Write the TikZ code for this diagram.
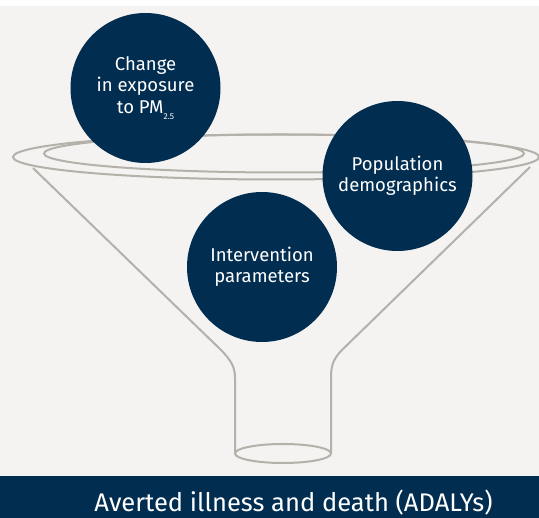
\documentclass[tikz,border=0pt]{standalone}
\usepackage{fontspec}
\setmainfont{Fira Sans}
\definecolor{navy}{HTML}{002D50}
\definecolor{bggray}{HTML}{F4F3F1}
\definecolor{rimgray}{HTML}{B4B1AB}
\begin{document}
\begin{tikzpicture}[x=1pt,y=-1pt,
  rim/.style={draw=rimgray,line width=2pt},
  bubble/.style={circle,fill=navy,minimum size=150pt,inner sep=0pt,text=white,align=center,
    font=\fontsize{18.5}{21.5}\selectfont},
  bandtext/.style={text=white,font=\fontsize{25.5}{30}\selectfont}]
\useasboundingbox (0,0) rectangle (539,518);
\fill[white] (0,0) rectangle (539,518);
\fill[bggray] (0,6) rectangle (539,476);
\fill[navy] (0,476) rectangle (539,518);
% funnel
\draw[rim] (276,157) ellipse [x radius=263, y radius=22.5];
\draw[rim] (284,153.5) ellipse [x radius=240, y radius=19];
\draw[rim,line join=round] (33,168) -- (220,349) .. controls (232,361) and (235,368) .. (235,378) -- (235,453);
\draw[rim,line join=round] (530,167) -- (342,350) .. controls (332,360) and (331,368) .. (331,378) -- (331,453);
\draw[rim] (283,453.5) ellipse [x radius=48, y radius=9.5];
% bubbles
\node[bubble] (exp) at (145.5,88) {Change\\in exposure\\to PM\raisebox{-0.35em}{\fontsize{8.5}{8.5}\selectfont 2.5}};
\node[bubble] (pop) at (397.5,176) {Population\\demographics};
\node[bubble] (int) at (262,267) {Intervention\\parameters};
\node[bandtext,anchor=base] (out) at (293.5,512) {Averted illness and death (ADALYs)};
\end{tikzpicture}
\end{document}
